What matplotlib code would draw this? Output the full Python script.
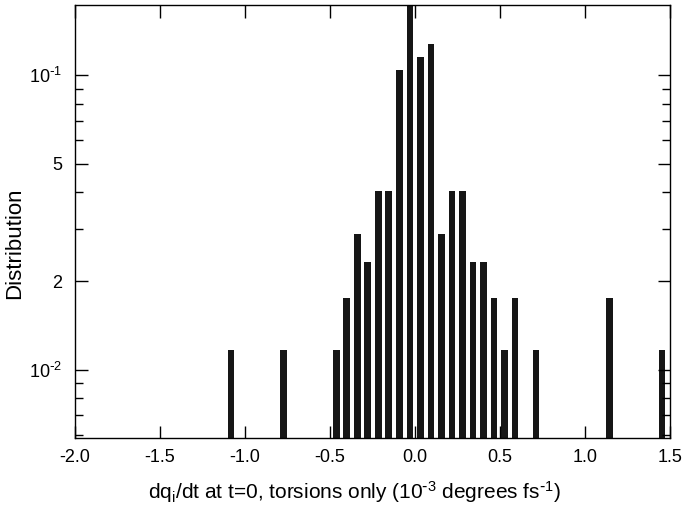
import matplotlib
matplotlib.use("Agg")
import matplotlib.pyplot as plt
from matplotlib.ticker import FixedLocator, NullFormatter

plt.rcParams['font.family'] = ['Liberation Sans', 'DejaVu Sans']
plt.rcParams['mathtext.default'] = 'regular'

# bin centres (10^-3 degrees fs^-1) and distribution values
centres = [-1.082, -0.772, -0.463, -0.402, -0.339, -0.278, -0.216, -0.155,
           -0.092, -0.029, 0.031, 0.094, 0.155, 0.218, 0.281, 0.341,
           0.402, 0.465, 0.525, 0.588, 0.712, 1.145, 1.453]
values = [0.01157, 0.01157, 0.01157, 0.01737, 0.0289, 0.0231, 0.0404, 0.0404,
          0.104, 0.175, 0.1153, 0.127, 0.0289, 0.0404, 0.0404, 0.0231,
          0.0231, 0.01737, 0.01157, 0.01737, 0.01157, 0.01737, 0.01157]

xticks = [-2.0, -1.5, -1.0, -0.5, 0.0, 0.5, 1.0, 1.5]
yticks = [0.01, 0.02, 0.05, 0.1]
ytick_labels = [r'10$^{\text{-}2}$', '2', '5', r'10$^{\text{-}1}$']

fig = plt.figure(figsize=(6.83, 5.14), dpi=100)
ax = fig.add_axes([0.1098, 0.1484, 0.8712, 0.8416])

ax.bar(centres, values, width=0.04, color='#161616', bottom=1e-4)
ax.set_yscale('log')
ax.set_xlim(-2.0, 1.5)
ax.set_ylim(5.88e-3, 0.1728)

ax.set_xticks(xticks)
ax.set_xticklabels([f"{t:.1f}" for t in xticks])
ax.yaxis.set_major_locator(FixedLocator(yticks))
ax.set_yticklabels(ytick_labels)
minor = [6e-3, 7e-3, 8e-3, 9e-3, 3e-2, 4e-2, 6e-2, 7e-2, 8e-2, 9e-2]
ax.yaxis.set_minor_locator(FixedLocator(minor))
ax.yaxis.set_minor_formatter(NullFormatter())
ax.xaxis.set_minor_locator(FixedLocator([]))

ax.tick_params(which='major', direction='in', top=True, right=True,
               length=9, width=1, labelsize=13)
ax.tick_params(axis='x', which='major', pad=8)
ax.tick_params(axis='y', which='major', pad=9)
ax.tick_params(which='minor', direction='in', right=True, length=6, width=1)
for s in ax.spines.values():
    s.set_linewidth(1)

ax.set_xlabel(r'dq$_i$/dt at t=0, torsions only (10$^{\text{-}3}$ degrees fs$^{\text{-}1}$)',
              fontsize=15)
ax.set_ylabel('Distribution', fontsize=16)
ax.xaxis.set_label_coords(0.469, -0.095)
ax.yaxis.set_label_coords(-0.083, 0.45)

fig.savefig('out.png', dpi=100)
